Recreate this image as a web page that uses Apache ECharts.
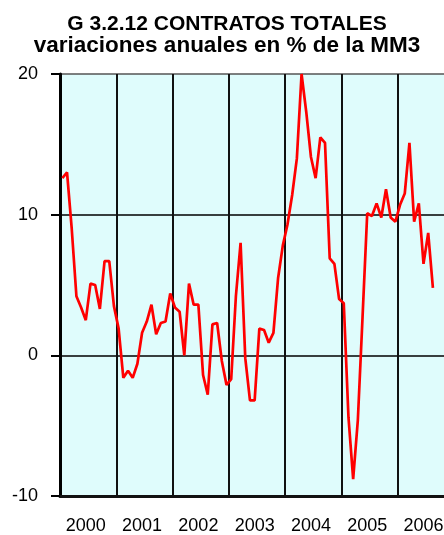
<!DOCTYPE html>
<html>
<head>
<meta charset="utf-8">
<script src="https://cdn.jsdelivr.net/npm/echarts@6/dist/echarts.min.js"></script>
<style>
  html, body { margin: 0; padding: 0; background: #fff; overflow: hidden; }
  /* the plot runs a little past the right edge of the window, as in the original */
  #main { width: 454px; height: 535px; }
</style>
</head>
<body>
<div id="main"></div>
<script>
// contratos totales, variaciones anuales en % (media movil 3 meses)
var years = ['2000', '2001', '2002', '2003', '2004', '2005', '2006'];
var months = ['01', '02', '03', '04', '05', '06', '07', '08', '09', '10', '11', '12'];
var yTicks = [-10, 0, 10, 20];

var v2000 = [12.6, 13.0, 9.0, 4.2, 3.4, 2.5, 5.1, 5.0, 3.3, 6.7, 6.7, 3.5];
var v2001 = [1.9, -1.6, -1.1, -1.6, -0.6, 1.6, 2.4, 3.6, 1.5, 2.3, 2.4, 4.4];
var v2002 = [3.4, 3.1, 0.0, 5.1, 3.6, 3.6, -1.4, -2.8, 2.2, 2.3, -0.4, -2.1];
var v2003 = [-1.7, 4.2, 8.0, -0.2, -3.2, -3.2, 1.9, 1.8, 0.9, 1.6, 5.5, 7.8];
var v2004 = [9.3, 11.4, 14.0, 20.0, 17.3, 14.1, 12.6, 15.5, 15.1, 6.9, 6.5, 4.0];
var v2005 = [3.7, -4.4, -8.8, -4.6, 2.7, 10.1, 9.9, 10.8, 9.8, 11.8, 9.8, 9.5];
var v2006 = [10.7, 11.5, 15.1, 9.5, 10.8, 6.5, 8.7, 4.8];

var categories = [];
years.forEach(function (y) {
    months.forEach(function (m) { categories.push(y + '-' + m); });
});
var values = [].concat(v2000, v2001, v2002, v2003, v2004, v2005, v2006);

var font = '"Liberation Sans", Arial, sans-serif';

var myChart = echarts.init(document.getElementById('main'));

var option = {
    backgroundColor: '#ffffff',
    animation: false,
    title: {
        text: '{a|G 3.2.12 CONTRATOS TOTALES}\n{b|variaciones anuales en % de la MM3}',
        left: 227,
        top: 13,
        padding: 0,
        textAlign: 'center',
        textStyle: {
            fontFamily: font,
            fontWeight: 'bold',
            color: '#000',
            rich: {
                a: { fontFamily: font, fontSize: 21, fontWeight: 'bold', lineHeight: 22, color: '#000' },
                b: { fontFamily: font, fontSize: 22.5, fontWeight: 'bold', lineHeight: 22, color: '#000' }
            }
        }
    },
    grid: {
        left: 60,
        top: 74,
        bottom: 36,
        right: 0,
        show: true,
        backgroundColor: '#DFFCFC',
        borderWidth: 0
    },
    xAxis: {
        type: 'category',
        data: categories,
        boundaryGap: true,
        axisLine: { show: true, onZero: false, lineStyle: { color: '#111', width: 3 } },
        axisTick: { show: false },
        axisLabel: {
            interval: function (i) { return i % 12 === 5; },
            formatter: function (v) { return v.slice(0, 4); },
            margin: 21,
            hideOverlap: false,
            fontFamily: font,
            fontSize: 18,
            color: '#000'
        },
        splitLine: {
            show: true,
            interval: 11,
            lineStyle: { color: '#111', width: 2 }
        }
    },
    yAxis: {
        type: 'value',
        min: yTicks[0],
        max: yTicks[yTicks.length - 1],
        interval: 10,
        axisLine: { show: true, lineStyle: { color: '#000', width: 3 } },
        axisTick: { show: true, inside: false, length: 9, lineStyle: { color: '#000', width: 2 } },
        axisLabel: {
            margin: 22,
            fontFamily: font,
            fontSize: 18,
            color: '#000'
        },
        splitLine: {
            show: true,
            lineStyle: { color: ['#000', '#000', '#000', '#555'], width: 1.5 }
        }
    },
    series: [
        {
            name: 'contratos',
            type: 'line',
            data: values,
            symbol: 'none',
            lineStyle: { color: '#FF0000', width: 2.7 }
        }
    ]
};

myChart.setOption(option);
</script>
</body>
</html>
